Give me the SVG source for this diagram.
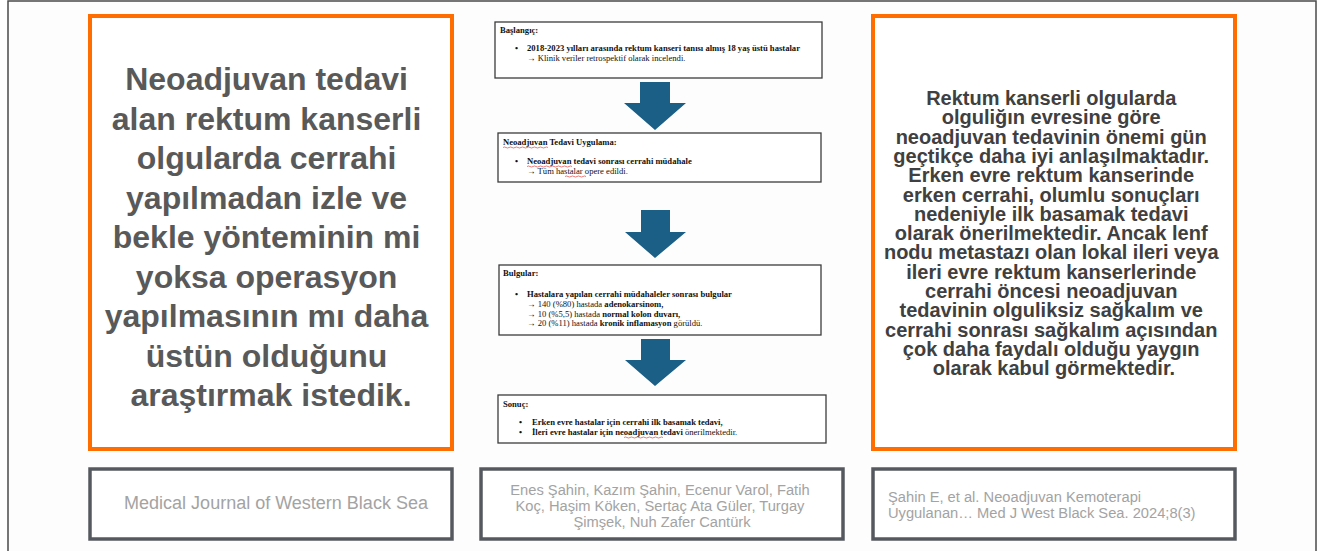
<svg xmlns="http://www.w3.org/2000/svg" width="1319" height="551" viewBox="0 0 1319 551">
<style>
.orange{fill:#fff;stroke:#ff6d00;stroke-width:4}
.gbox{fill:#fff;stroke:#55595f;stroke-width:3.5}
.fbox{fill:#fff;stroke:#3c3c3c;stroke-width:1.3}
.big{font-family:"Liberation Sans",Arial,sans-serif;font-weight:bold;font-size:32px;fill:#595959;text-anchor:middle}
.rt{font-family:"Liberation Sans",Arial,sans-serif;font-weight:bold;font-size:20px;fill:#404040;text-anchor:middle}
.cite{font-family:"Liberation Sans",Arial,sans-serif;font-size:14.7px;fill:#a3a3a3}
.ft{font-family:"Liberation Serif","Times New Roman",serif;font-size:8.6px;fill:#111}
.b{font-weight:bold}
.arrow{fill:#1b5f86}
.wavy{fill:none;stroke:#d22;stroke-width:0.6}
</style>
<rect x="0" y="0" width="1319" height="551" fill="#fff"/>
<rect x="8" y="1" width="1308" height="570" fill="#fdfdfd" stroke="#4a4a4a" stroke-width="1.5"/>

<g id="left-question">
<rect class="orange" x="90" y="16" width="362" height="433"/>
<text class="big" x="271">
<tspan x="271" y="90">Neoadjuvan tedavi</tspan>
<tspan x="271" y="129.5">alan rektum kanserli</tspan>
<tspan x="271" y="169">olgularda cerrahi</tspan>
<tspan x="271" y="208.5">yapılmadan izle ve</tspan>
<tspan x="271" y="248">bekle yönteminin mi</tspan>
<tspan x="271" y="287.5">yoksa operasyon</tspan>
<tspan x="271" y="327">yapılmasının mı daha</tspan>
<tspan x="271" y="366.5">üstün olduğunu</tspan>
<tspan x="271" y="406">araştırmak istedik.</tspan>
</text>
</g>

<g id="right-conclusion">
<rect class="orange" x="873" y="16" width="362" height="433"/>
<text class="rt">
<tspan x="1054" y="105">Rektum kanserli olgularda</tspan>
<tspan x="1054" y="124.3">olguliğın evresine göre</tspan>
<tspan x="1054" y="143.6">neoadjuvan tedavinin önemi gün</tspan>
<tspan x="1054" y="162.9">geçtikçe daha iyi anlaşılmaktadır.</tspan>
<tspan x="1054" y="182.2">Erken evre rektum kanserinde</tspan>
<tspan x="1054" y="201.5">erken cerrahi, olumlu sonuçları</tspan>
<tspan x="1054" y="220.8">nedeniyle ilk basamak tedavi</tspan>
<tspan x="1054" y="240.1">olarak önerilmektedir. Ancak lenf</tspan>
<tspan x="1054" y="259.4">nodu metastazı olan lokal ileri veya</tspan>
<tspan x="1054" y="278.7">ileri evre rektum kanserlerinde</tspan>
<tspan x="1054" y="298">cerrahi öncesi neoadjuvan</tspan>
<tspan x="1054" y="317.3">tedavinin olguliksiz sağkalım ve</tspan>
<tspan x="1054" y="336.6">cerrahi sonrası sağkalım açısından</tspan>
<tspan x="1054" y="355.9">çok daha faydalı olduğu yaygın</tspan>
<tspan x="1054" y="375.2">olarak kabul görmektedir.</tspan>
</text>
</g>

<g id="journal">
<rect class="gbox" x="90" y="469" width="362" height="70"/>
<text class="cite" x="276" y="509" text-anchor="middle" style="font-size:18px">Medical Journal of Western Black Sea</text>
</g>

<g id="authors">
<rect class="gbox" x="481" y="469" width="362" height="70"/>
<text class="cite" text-anchor="middle">
<tspan x="662" y="495">Enes Şahin, Kazım Şahin,  Ecenur Varol, Fatih</tspan>
<tspan x="662" y="511">Koç, Haşim Köken, Sertaç Ata Güler, Turgay</tspan>
<tspan x="662" y="527">Şimşek, Nuh Zafer Cantürk</tspan>
</text>
</g>

<g id="citation">
<rect class="gbox" x="873" y="469" width="362" height="70"/>
<text class="cite">
<tspan x="888" y="502">Şahin E, et al. Neoadjuvan Kemoterapi</tspan>
<tspan x="888" y="518">Uygulanan… Med J West Black Sea. 2024;8(3)</tspan>
</text>
</g>

<g id="box-baslangic">
<rect class="fbox" x="495" y="22" width="327" height="56"/>
<text class="ft b" x="500" y="33">Başlangıç:</text>
<text class="ft b" x="515" y="51">•</text>
<text class="ft b" x="527" y="51">2018-2023 yılları arasında rektum kanseri tanısı almış 18 yaş üstü hastalar</text>
<text class="ft" x="527" y="61">→ Klinik veriler retrospektif olarak incelendi.</text>
</g>

<g id="box-neoadjuvan">
<rect class="fbox" x="498" y="133" width="323" height="49"/>
<text class="ft b" x="503" y="145">Neoadjuvan Tedavi Uygulama:</text>
<path class="wavy" d="M503 147.5 q1.5 -1 3 0 t3 0 t3 0 t3 0 t3 0 t3 0 t3 0 t3 0 t3 0 t3 0 t3 0 t3 0 t3 0 t3 0 t3 0"/>
<text class="ft b" x="515" y="164">•</text>
<text class="ft b" x="527" y="164">Neoadjuvan tedavi sonrası cerrahi müdahale</text>
<path class="wavy" d="M527 166.5 q1.5 -1 3 0 t3 0 t3 0 t3 0 t3 0 t3 0 t3 0 t3 0 t3 0 t3 0 t3 0 t3 0 t3 0 t3 0 t3 0"/>
<text class="ft" x="527" y="174">→ Tüm hastalar opere edildi.</text>
<path class="wavy" d="M565 176.5 q1.5 -1 3 0 t3 0 t3 0 t3 0 t3 0 t3 0 t3 0"/>
</g>

<g id="box-bulgular">
<rect class="fbox" x="499" y="265" width="322" height="70"/>
<text class="ft b" x="503" y="276">Bulgular:</text>
<text class="ft b" x="515" y="297">•</text>
<text class="ft b" x="527" y="297">Hastalara yapılan cerrahi müdahaleler sonrası bulgular</text>
<text class="ft" x="527" y="307">→ 140 (%80) hastada <tspan class="b">adenokarsinom,</tspan></text>
<text class="ft" x="527" y="316.5">→ 10 (%5,5) hastada <tspan class="b">normal kolon duvarı,</tspan></text>
<text class="ft" x="527" y="326">→ 20 (%11) hastada <tspan class="b">kronik inflamasyon</tspan> görüldü.</text>
</g>

<g id="box-sonuc">
<rect class="fbox" x="498" y="395" width="328" height="48"/>
<text class="ft b" x="503" y="407">Sonuç:</text>
<text class="ft b" x="519" y="425">•</text>
<text class="ft b" x="532" y="425">Erken evre hastalar için cerrahi ilk basamak tedavi,</text>
<text class="ft b" x="519" y="435">•</text>
<text class="ft b" x="532" y="435">İleri evre hastalar için neoadjuvan tedavi <tspan style="font-weight:normal">önerilmektedir.</tspan></text>
<path class="wavy" d="M624 437.5 q1.5 -1 3 0 t3 0 t3 0 t3 0 t3 0 t3 0 t3 0 t3 0 t3 0 t3 0 t3 0 t3 0 t3 0"/>
</g>

<g id="connectors">
<polygon class="arrow" points="640,82 670,82 670,103 686,103 655,130 624,103 640,103"/>
<polygon class="arrow" points="641,210 670,210 670,232 686,232 655,258 625,232 641,232"/>
<polygon class="arrow" points="641,339 670,339 670,360 686,360 655,386 625,360 641,360"/>
</g>
</svg>
